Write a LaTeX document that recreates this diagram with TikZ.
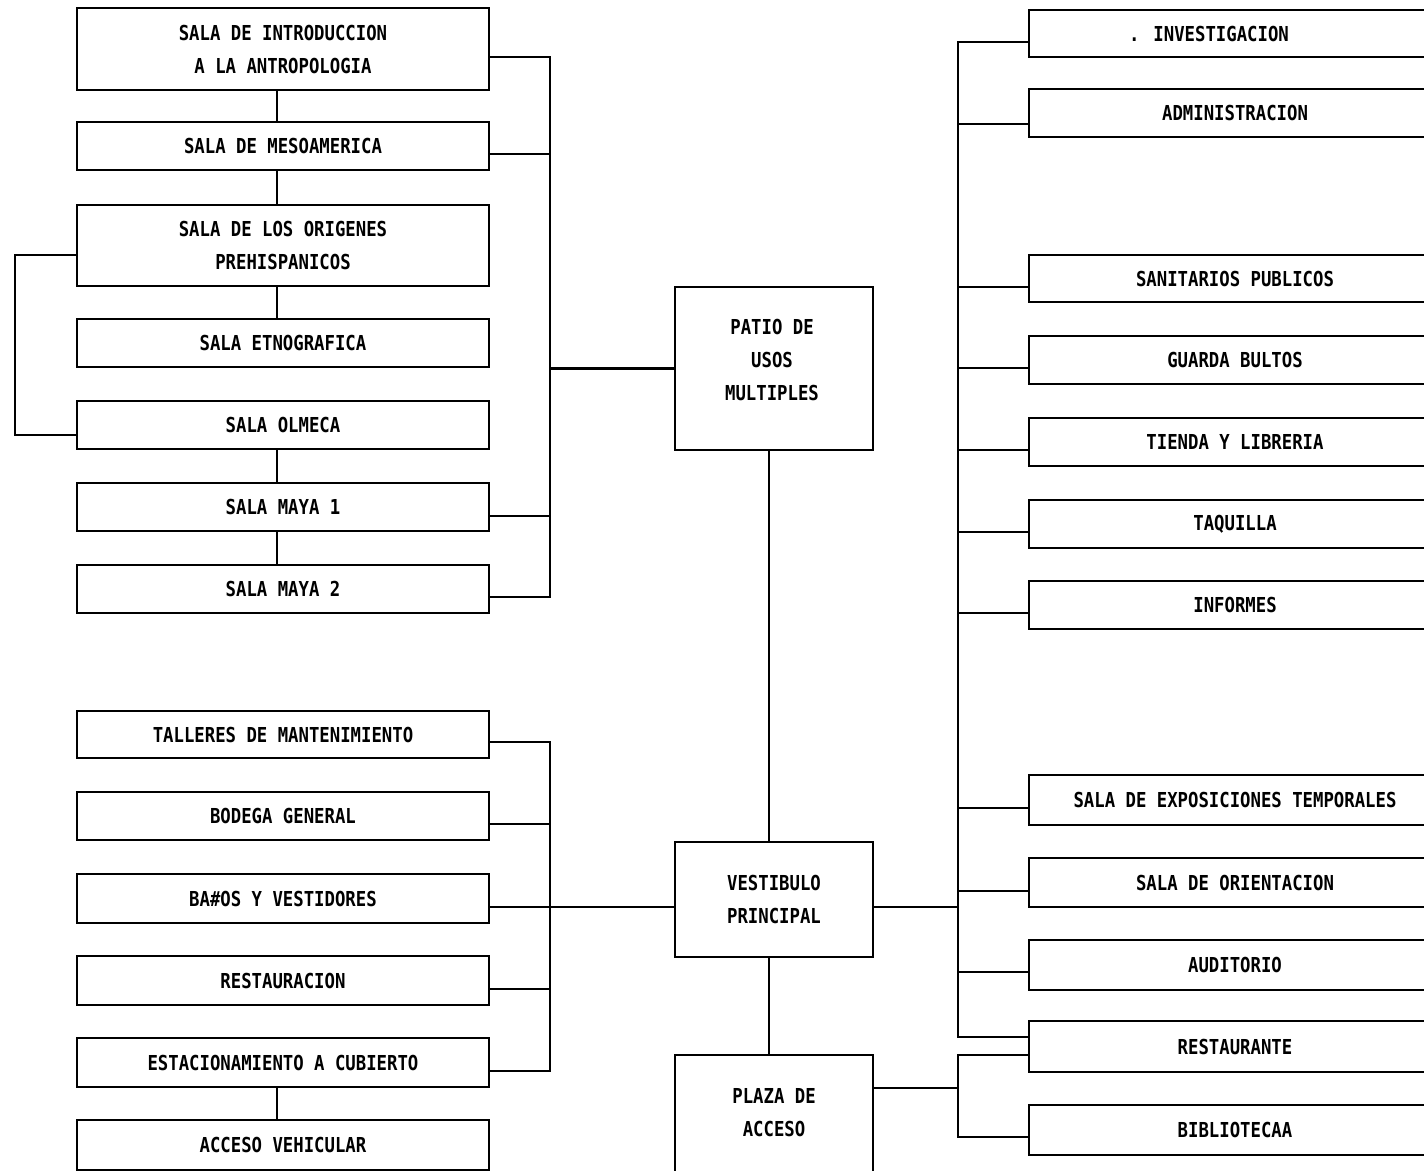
\documentclass[tikz,border=0pt]{standalone}
\usepackage{fontspec}
\newfontfamily\plotfont{DejaVu Sans Mono}[FakeStretch=0.84]
\begin{document}
\begin{tikzpicture}[x=1pt,y=-1pt,
  lw/.style={line width=2.8pt},
  box/.style={draw, lw, inner sep=0pt, outer sep=0pt, align=center, minimum width=412pt,
    font=\plotfont\bfseries\fontsize{20.6}{33}\selectfont},
  cbox/.style={box, minimum width=198pt},
  lbl/.style={inner sep=0pt, align=center, font=\plotfont\bfseries\fontsize{20.6}{33}\selectfont},
  conn/.style={lw, line cap=rect}]
\useasboundingbox (0,0) rectangle (1424,1170);
\fill[white] (0,0) rectangle (1424,1170);
\clip (0,0) rectangle (1424,1170);

% upper left group
\node[box, minimum height=82pt] (i1) at (283,49) {SALA DE INTRODUCCION\\A LA ANTROPOLOGIA};
\node[box, minimum height=48pt] (i2) at (283,146) {SALA DE MESOAMERICA};
\node[box, minimum height=81pt] (i3) at (283,245.5) {SALA DE LOS ORIGENES\\PREHISPANICOS};
\node[box, minimum height=48pt] (i4) at (283,343) {SALA ETNOGRAFICA};
\node[box, minimum height=48pt] (i5) at (283,425) {SALA OLMECA};
\node[box, minimum height=48pt] (i6) at (283,507) {SALA MAYA 1};
\node[box, minimum height=48pt] (i7) at (283,589) {SALA MAYA 2};

% centre column
\node[cbox, minimum height=163pt] (patio) at (774,368.5) {};
\node[lbl] (patioT) at (772,360) {PATIO DE\\USOS\\MULTIPLES};
\node[cbox, minimum height=115pt] (vest) at (774,899.5) {VESTIBULO\\PRINCIPAL};
\node[cbox, minimum height=125pt] (plaza) at (774,1117.5) {};
\node[lbl] (plazaT) at (774,1112.5) {PLAZA DE\\ACCESO};

% lower left group
\node[box, minimum height=47pt] (t1) at (283,734.5) {TALLERES DE MANTENIMIENTO};
\node[box, minimum height=48pt] (t2) at (283,816) {BODEGA GENERAL};
\node[box, minimum height=49pt] (t3) at (283,898.5) {BA\#OS Y VESTIDORES};
\node[box, minimum height=49pt] (t4) at (283,980.5) {RESTAURACION};
\node[box, minimum height=49pt] (t5) at (283,1062.5) {ESTACIONAMIENTO A CUBIERTO};
\node[box, minimum height=50pt] (t6) at (283,1145) {ACCESO VEHICULAR};

% right group
\node[box, minimum height=47pt] (r1) at (1235,33.5) {};
\node[lbl] (r1T) at (1209,33.5) {. INVESTIGACION};
\node[box, minimum height=48pt] (r2) at (1235,113) {ADMINISTRACION};
\node[box, minimum height=47pt] (r3) at (1235,278.5) {SANITARIOS PUBLICOS};
\node[box, minimum height=48pt] (r4) at (1235,360) {GUARDA BULTOS};
\node[box, minimum height=48pt] (r5) at (1235,442) {TIENDA Y LIBRERIA};
\node[box, minimum height=48pt] (r6) at (1235,524) {TAQUILLA};
\node[box, minimum height=48pt] (r7) at (1235,605) {INFORMES};
\node[box, minimum height=50pt] (r8) at (1235,800) {SALA DE EXPOSICIONES TEMPORALES};
\node[box, minimum height=49pt] (r9) at (1235,882.5) {SALA DE ORIENTACION};
\node[box, minimum height=50pt] (r10) at (1235,965) {AUDITORIO};
\node[box, minimum height=51pt] (r11) at (1235,1046.5) {RESTAURANTE};
\node[box, minimum height=50pt] (r12) at (1235,1130) {BIBLIOTECAA};

% upper left connectors
\draw[conn] ([xshift=-6pt]i1.south) -- ([xshift=-6pt]i2.north);
\draw[conn] ([xshift=-6pt]i2.south) -- ([xshift=-6pt]i3.north);
\draw[conn] ([xshift=-6pt]i3.south) -- ([xshift=-6pt]i4.north);
\draw[conn] ([xshift=-6pt]i5.south) -- ([xshift=-6pt]i6.north);
\draw[conn] ([xshift=-6pt]i6.south) -- ([xshift=-6pt]i7.north);
\draw[conn] ([yshift=-8pt]i1.east) -- ++(61,0) |- ([yshift=-8pt]i7.east);
\draw[conn] ([yshift=-8pt]i2.east) -- ++(61,0);
\draw[conn] ([yshift=-9pt]i6.east) -- ++(61,0);
\draw[conn] (patio.west) -- ++(-125,0);
\draw[conn] ([yshift=-9.5pt]i3.west) -- ++(-62,0) |- ([yshift=-10pt]i5.west);

% centre connectors
\draw[conn] ([xshift=-5pt]patio.south) -- ([xshift=-5pt]vest.north);
\draw[conn] ([xshift=-5pt]vest.south) -- ([xshift=-5pt]plaza.north);

% lower left connectors
\draw[conn] ([yshift=-7.5pt]t1.east) -- ++(61,0) |- ([yshift=-8.5pt]t5.east);
\draw[conn] ([yshift=-8pt]t2.east) -- ++(61,0);
\draw[conn] ([yshift=-8.5pt]t4.east) -- ++(61,0);
\draw[conn] ([yshift=-7.5pt]vest.west) -- ([yshift=-8.5pt]t3.east);
\draw[conn] ([xshift=-6pt]t5.south) -- ([xshift=-6pt]t6.north);

% right connectors
\draw[conn] ([yshift=-8.5pt]r1.west) -- ++(-71,0) |- ([yshift=9.5pt]r11.west);
\draw[conn] ([yshift=-11pt]r2.west) -- ++(-71,0);
\draw[conn] ([yshift=-8.5pt]r3.west) -- ++(-71,0);
\draw[conn] ([yshift=-8pt]r4.west) -- ++(-71,0);
\draw[conn] ([yshift=-8pt]r5.west) -- ++(-71,0);
\draw[conn] ([yshift=-8pt]r6.west) -- ++(-71,0);
\draw[conn] ([yshift=-8pt]r7.west) -- ++(-71,0);
\draw[conn] ([yshift=-8pt]r8.west) -- ++(-71,0);
\draw[conn] ([yshift=-8.5pt]r9.west) -- ++(-71,0);
\draw[conn] ([yshift=-7pt]r10.west) -- ++(-71,0);
\draw[conn] ([yshift=-7.5pt]vest.east) -- ++(85,0);
\draw[conn] ([yshift=-8.5pt]r11.west) -- ++(-71,0) |- ([yshift=-7pt]r12.west);
\draw[conn] ([yshift=29.5pt]plaza.east) -- ++(85,0);
\end{tikzpicture}
\end{document}
